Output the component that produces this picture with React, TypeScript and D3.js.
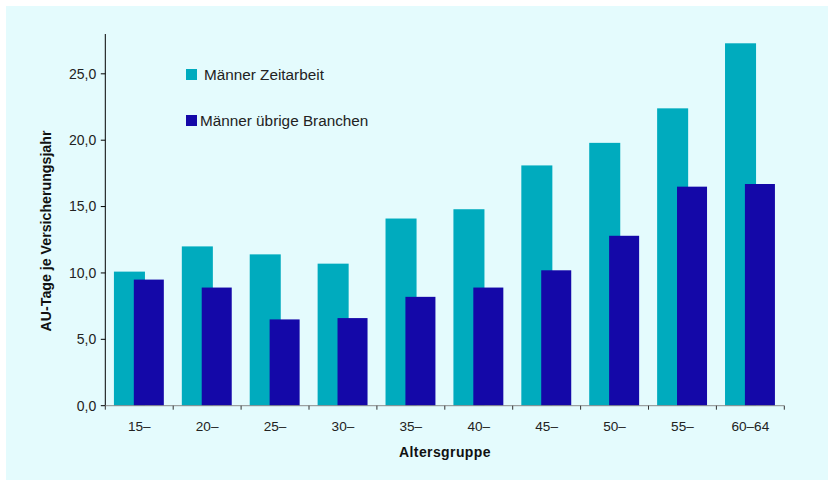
import React from "react";
import * as d3 from "d3";

const categories = ["15–", "20–", "25–", "30–", "35–", "40–", "45–", "50–", "55–", "60–64"];
const zeitarbeit = [10.1, 12.0, 11.4, 10.7, 14.1, 14.8, 18.1, 19.8, 22.4, 27.3];
const uebrige = [9.5, 8.9, 6.5, 6.6, 8.2, 8.9, 10.2, 12.8, 16.5, 16.7];
const yTicks = [0, 5, 10, 15, 20, 25];
const seriesNames = ["Männer Zeitarbeit", "Männer übrige Branchen"];
const colors = ["#00ABBE", "#1408A8"];

const W = 828;
const H = 480;
const left = 105.3;
const right = 784.3;
const top = 34;
const bottom = 405.7;

export default function App() {
  const x = d3.scaleBand<string>().domain(categories).range([left, right]).padding(0);
  const y = d3.scaleLinear().domain([0, 28]).range([bottom, top]);
  const bw = x.bandwidth();
  const fmt = (v: number) => v.toFixed(1).replace(".", ",");
  const font = "Arial, 'Liberation Sans', Helvetica, sans-serif";

  return (
    <svg width={W} height={H} style={{ position: "absolute", left: 0, top: 0 }}>
      <rect x={0} y={0} width={W} height={H} fill="#ffffff" />
      <rect x={6} y={6} width={W - 6} height={H - 6} fill="#E4FBFD" />
      {categories.map((c, i) => {
        const x0 = x(c)!;
        return (
          <g key={c}>
            <rect x={x0 + bw * 0.127} y={y(zeitarbeit[i])} width={bw * 0.457} height={bottom - y(zeitarbeit[i])} fill={colors[0]} />
            <rect x={x0 + bw * 0.42} y={y(uebrige[i])} width={bw * 0.442} height={bottom - y(uebrige[i])} fill={colors[1]} />
          </g>
        );
      })}
      {/* y axis */}
      <line x1={left} x2={left} y1={top} y2={bottom} stroke="#000" strokeWidth={1} />
      {yTicks.map((t) => (
        <g key={t}>
          <line x1={left - 4.5} x2={left} y1={y(t)} y2={y(t)} stroke="#000" />
          <text x={left - 9} y={y(t)} dy="0.35em" textAnchor="end" fontFamily={font} fontSize={14} fill="#222">
            {fmt(t)}
          </text>
        </g>
      ))}
      {/* x axis */}
      <line x1={left} x2={right} y1={bottom} y2={bottom} stroke="#8a8a8a" strokeWidth={1} />
      {[...categories.map((c) => x(c)!), right].map((p, i) => (
        <line key={i} x1={p} x2={p} y1={bottom} y2={bottom + 4} stroke="#333" />
      ))}
      {categories.map((c) => (
        <text key={c} x={x(c)! + bw / 2} y={431} textAnchor="middle" fontFamily={font} fontSize={13.6} fill="#222">
          {c}
        </text>
      ))}
      <text x={445} y={457} textAnchor="middle" fontFamily={font} fontSize={14} fontWeight="bold" letterSpacing={0.4} fill="#111">
        Altersgruppe
      </text>
      <text transform={`translate(46,231) rotate(-90)`} textAnchor="middle" dy="0.35em" fontFamily={font} fontSize={14.2} fontWeight="bold" fill="#111">
        AU-Tage je Versicherungsjahr
      </text>
      {/* legend */}
      <rect x={186} y={69} width={11} height={11} fill={colors[0]} />
      <text x={204} y={79.5} fontFamily={font} fontSize={15.3} fill="#222">{seriesNames[0]}</text>
      <rect x={186} y={115} width={11} height={11} fill={colors[1]} />
      <text x={200} y={125.5} fontFamily={font} fontSize={15.3} fill="#222">{seriesNames[1]}</text>
    </svg>
  );
}
